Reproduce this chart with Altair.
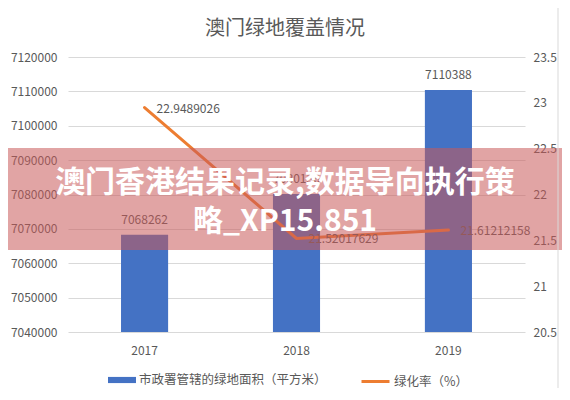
import altair as alt
import pandas as pd

FONT = "Noto Sans CJK SC"
GREY = "#595959"
BLUE = "#4472C4"
ORANGE = "#ED7D31"
GRID = "#d9d9d9"

title = "澳门绿地覆盖情况"
years = ["2017", "2018", "2019"]
area = [7068262, 7080136, 7110388]
rate = [22.9489026, 21.52017629, 21.61212158]
rate_labels = ["22.9489026", "21.52017629", "21.61212158"]
left_ticks = [7040000, 7050000, 7060000, 7070000, 7080000,
              7090000, 7100000, 7110000, 7120000]
right_ticks = [20.5, 21, 21.5, 22, 22.5, 23, 23.5]
bar_name = "市政署管辖的绿地面积（平方米）"
line_name = "绿化率（%）"
banner_lines = ["澳门香港结果记录,数据导向执行策", "略_XP15.851"]

df = pd.DataFrame({
    "year": years,
    "area": area,
    "area_label": [str(v) for v in area],
    "rate": rate,
    "rate_label": rate_labels,
    "bar_series": bar_name,
    "line_series": line_name,
})

x = alt.X("year:O",
          scale=alt.Scale(paddingInner=0.69, paddingOuter=0.349),
          axis=alt.Axis(title=None, labelAngle=0, ticks=False, domain=False,
                        labelPadding=13, labelFontSize=12, labelColor=GREY,
                        labelFont=FONT))

y_left = alt.Y("area:Q",
               scale=alt.Scale(domain=[7040000, 7120000], zero=False, nice=False),
               axis=alt.Axis(title=None, values=left_ticks, format="d",
                             tickCount=9, ticks=False, domain=False,
                             gridColor=GRID, labelOverlap=False,
                             labelPadding=11, labelFontSize=12,
                             labelColor=GREY, labelFont=FONT))
y_right = alt.Y("rate:Q",
                scale=alt.Scale(domain=[20.5, 23.5], zero=False, nice=False),
                axis=alt.Axis(title=None, orient="right", values=right_ticks,
                              format="~g", grid=False, ticks=False,
                              domain=False, labelOverlap=False,
                              labelPadding=8, labelFontSize=12,
                              labelColor=GREY, labelFont=FONT))

bar = alt.Chart(df).mark_bar().encode(
    x=x,
    y=y_left,
    y2=alt.datum(7040000),
    color=alt.Color("bar_series:N",
                    scale=alt.Scale(domain=[bar_name], range=[BLUE]),
                    legend=alt.Legend(orient="none", legendX=40, legendY=309,
                                      title=None, padding=0,
                                      symbolType="M-1,-0.22H1V0.22H-1Z",
                                      symbolSize=784, symbolStrokeWidth=0,
                                      labelFontSize=12.5, labelColor=GREY,
                                      labelFont=FONT, labelOffset=3,
                                      labelLimit=400)),
)
bar_text = alt.Chart(df).mark_text(
    baseline="bottom", dy=-8, fontSize=12, font=FONT, color=GREY
).encode(x=x, y=y_left, text="area_label:N")
bars = alt.layer(bar, bar_text)

line = alt.Chart(df).mark_line(strokeWidth=3, strokeCap="round").encode(
    x=x,
    y=y_right,
    stroke=alt.Stroke("line_series:N",
                      scale=alt.Scale(domain=[line_name], range=[ORANGE]),
                      legend=alt.Legend(orient="none", legendX=292, legendY=309,
                                        title=None, padding=0,
                                        symbolType="stroke", symbolSize=784,
                                        symbolStrokeWidth=3,
                                        labelFontSize=12.5, labelColor=GREY,
                                        labelFont=FONT, labelOffset=3,
                                        labelLimit=400)),
)
line_text = alt.Chart(df).mark_text(
    align="left", baseline="middle", dx=12, dy=1,
    fontSize=12, font=FONT, color=GREY
).encode(x=x, y=y_right, text="rate_label:N")
lines = alt.layer(line, line_text)

one = pd.DataFrame({"k": [0]})
title_text = alt.Chart(one).mark_text(
    text=title, fontSize=20, font=FONT, color=GREY,
    align="center", baseline="middle"
).encode(x=alt.value(217), y=alt.value(-28))

banner = alt.Chart(one).mark_rect(fill="#c85a5a", opacity=0.55).encode(
    x=alt.value(-70), x2=alt.value(520), y=alt.value(91), y2=alt.value(193))
banner_text = alt.Chart(one).mark_text(
    text=banner_lines, fontSize=30, fontWeight="bold", color="white",
    font=FONT, lineHeight=39, align="center", baseline="middle"
).encode(x=alt.value(217), y=alt.value(126))

frame = alt.Chart(one).mark_rule(color=GRID, strokeWidth=1).encode(
    x=alt.value(490), y=alt.value(-57), y2=alt.value(331))

chart = alt.layer(
    title_text, bars, lines, banner, banner_text, frame
).resolve_scale(
    y="independent"
).properties(
    width=457,
    height=275,
    padding={"left": 60, "top": 49, "right": 37, "bottom": 56},
    autosize=alt.AutoSizeParams(type="none"),
).configure_view(
    stroke=None
)

chart.save("out.html", embed_options={"renderer": "svg", "actions": False})
